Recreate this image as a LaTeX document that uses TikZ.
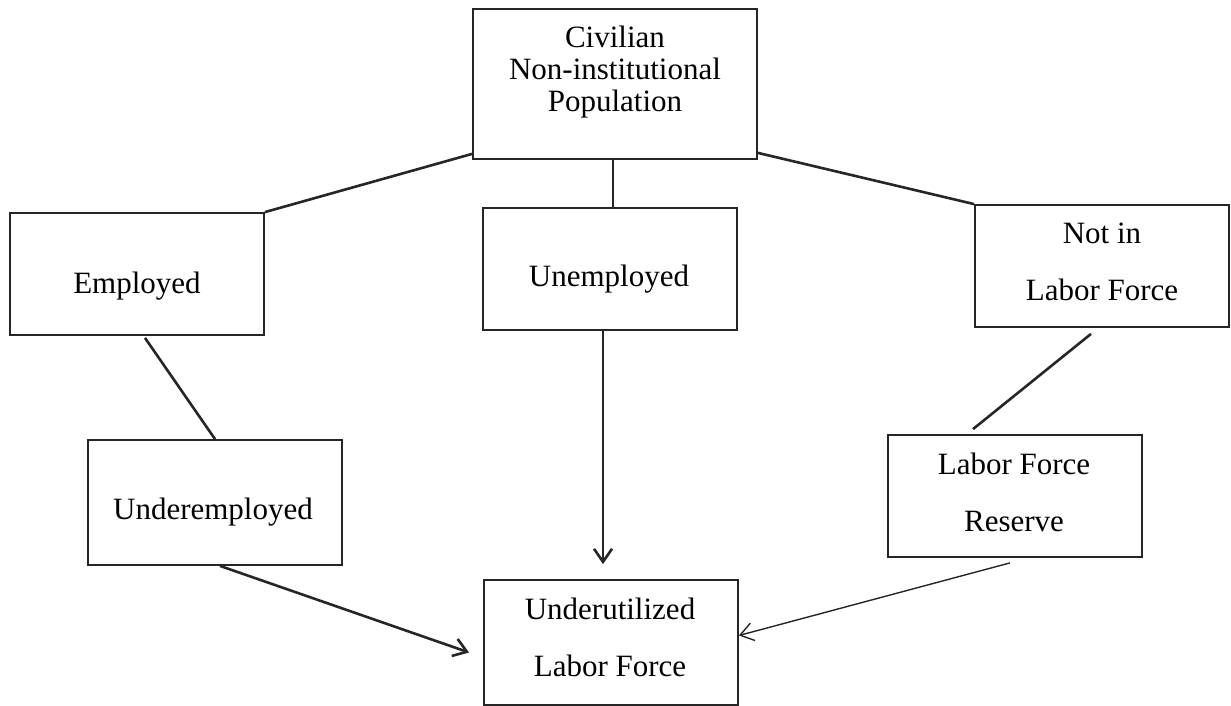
\documentclass[tikz,border=0pt]{standalone}
\usepackage{fontspec}
\setmainfont{Liberation Serif}
\usetikzlibrary{arrows.meta,calc}
\begin{document}
\begin{tikzpicture}[x=0.5pt,y=-0.5pt,
  box/.style={draw=black!85,line width=0.9pt,minimum width=127pt,minimum height=61pt,inner sep=0pt},
  txt/.style={align=center,inner sep=0pt,font=\fontsize{15.5}{16}\selectfont},
  txtw/.style={align=center,inner sep=0pt,font=\fontsize{15.5}{28.5}\selectfont},
  conn/.style={draw=black!85,line width=1.3pt},
  arr/.style={draw=black!85,line width=1.3pt,-{Straight Barb[length=6.5pt,width=9pt,line width=1.3pt]}},
  arrthin/.style={draw=black!85,line width=0.7pt,-{Straight Barb[length=6.5pt,width=9pt,line width=0.7pt]}}]
\useasboundingbox[fill=white] (0,0) rectangle (1231,706);
% boxes
\node[box,minimum width=142pt,minimum height=75pt] (civ) at (615,84) {};
\node[box] (emp) at (137,274) {};
\node[box] (unemp) at (610,269) {};
\node[box] (nilf) at (1102,266) {};
\node[box,minimum height=62.5pt] (under) at (215,502.5) {};
\node[box] (lfr) at (1015,496) {};
\node[box,minimum height=62.5pt] (util) at (611,642.5) {};
% texts
\node[txt] (civT) at (615,72) {Civilian\\Non-institutional\\Population};
\node[txt] (empT) at (137,286) {Employed};
\node[txt] (unempT) at (609,279) {Unemployed};
\node[txtw] (nilfT) at (1102,262) {Not in\\Labor Force};
\node[txt] (underT) at (213,512) {Underemployed};
\node[txtw] (lfrT) at (1014,492) {Labor Force\\Reserve};
\node[txtw] (utilT) at (610,637) {Underutilized\\Labor Force};
% connectors
\draw[conn] ($(civ.south west)+(0,-6)$) -- (emp.north east);
\draw[conn] ($(civ.south)+(-2,0)$) -- ($(civ.south |- unemp.north)+(-2,0)$);
\draw[conn] ($(civ.south east)+(0,-7)$) -- (nilf.north west);
\draw[conn] ($(emp.south)+(8,2)$) -- (under.north);
\draw[conn] ($(nilf.south)+(-11,6)$) -- ($(lfr.north)+(-42,-5)$);
\draw[arr] ($(unemp.south)+(-7,0)$) -- ($(util.north)+(-8,-15)$);
\draw[arr] ($(under.south)+(5,0)$) -- ($(util.west)+(-14,10)$);
\draw[arrthin] ($(lfr.south)+(-5,5)$) -- ($(util.east)+(0,-7)$);
\end{tikzpicture}
\end{document}
